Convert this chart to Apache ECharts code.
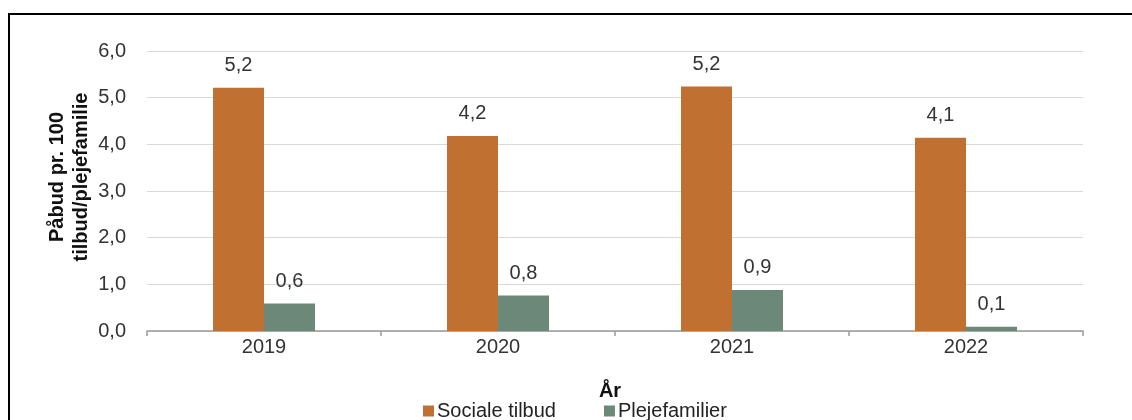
<!DOCTYPE html>
<html>
<head>
<meta charset="utf-8">
<script src="https://cdn.jsdelivr.net/npm/echarts@6/dist/echarts.min.js"></script>
<style>
html,body{margin:0;padding:0;background:#fff;}
#chart{width:1132px;height:420px;}
</style>
</head>
<body>
<div id="chart"></div>
<script>
const categories = ['2019', '2020', '2021', '2022'];
const socialeTilbud = [5.21, 4.18, 5.24, 4.14];
const plejefamilier = [0.59, 0.76, 0.88, 0.09];
const seriesNames = ['Sociale tilbud', 'Plejefamilier'];
const yAxisTitle = 'Påbud pr. 100\ntilbud/plejefamilie';
const xAxisTitle = 'År';

const fmt = v => v.toFixed(1).replace('.', ',');
const FONT = '"Liberation Sans", Arial, sans-serif';

const chart = echarts.init(document.getElementById('chart'), null, {renderer: 'canvas'});
const labelCfg = {
  show: true, position: 'top', distance: 12,
  color: '#333', fontSize: 20, fontFamily: FONT,
  formatter: p => fmt(p.value)
};
chart.setOption({
  animation: false,
  backgroundColor: '#fff',
  textStyle: {fontFamily: FONT},
  grid: {left: 147, right: 49, top: 51, bottom: 89, containLabel: false},
  graphic: [{
    type: 'polyline',
    shape: {points: [[9, 420], [9, 14], [1132, 14]]},
    style: {stroke: '#000', lineWidth: 2, fill: null}
  }, {
    type: 'text',
    x: 69, y: 177,
    rotation: Math.PI / 2,
    style: {
      text: yAxisTitle,
      fontSize: 20, fontWeight: 'bold', fontFamily: FONT, fill: '#111',
      lineHeight: 24, align: 'center', verticalAlign: 'middle'
    }
  }],
  legend: {
    data: seriesNames,
    left: 418, top: 396,
    itemWidth: 11, itemHeight: 11, itemGap: 48,
    icon: 'rect',
    textStyle: {fontSize: 20, color: '#222', fontFamily: FONT, padding: [0, 0, 0, -2]}
  },
  xAxis: {
    type: 'category',
    data: categories,
    name: xAxisTitle,
    nameLocation: 'middle',
    nameGap: 50,
    nameTextStyle: {fontSize: 20, fontWeight: 'bold', color: '#111', fontFamily: FONT, padding: [0, 10, 0, 0]},
    axisLine: {show: true, lineStyle: {color: '#9a9a9a', width: 1.5}},
    axisTick: {show: true, length: 5, lineStyle: {color: '#9a9a9a', width: 1.5}},
    axisLabel: {fontSize: 20, color: '#333', margin: 6, fontFamily: FONT}
  },
  yAxis: {
    type: 'value',
    min: 0, max: 6, interval: 1,
    axisLine: {show: false},
    axisTick: {show: false},
    splitLine: {lineStyle: {color: '#d9d9d9', width: 1}},
    axisLabel: {fontSize: 20, color: '#333', margin: 21, fontFamily: FONT, formatter: v => fmt(v)}
  },
  series: [
    {name: seriesNames[0], type: 'bar', data: socialeTilbud, barWidth: 51, barGap: '0%',
     itemStyle: {color: '#C07030'}, label: labelCfg},
    {name: seriesNames[1], type: 'bar', data: plejefamilier, barWidth: 51, barGap: '0%',
     itemStyle: {color: '#6C8878'}, label: labelCfg}
  ]
});
</script>
</body>
</html>
